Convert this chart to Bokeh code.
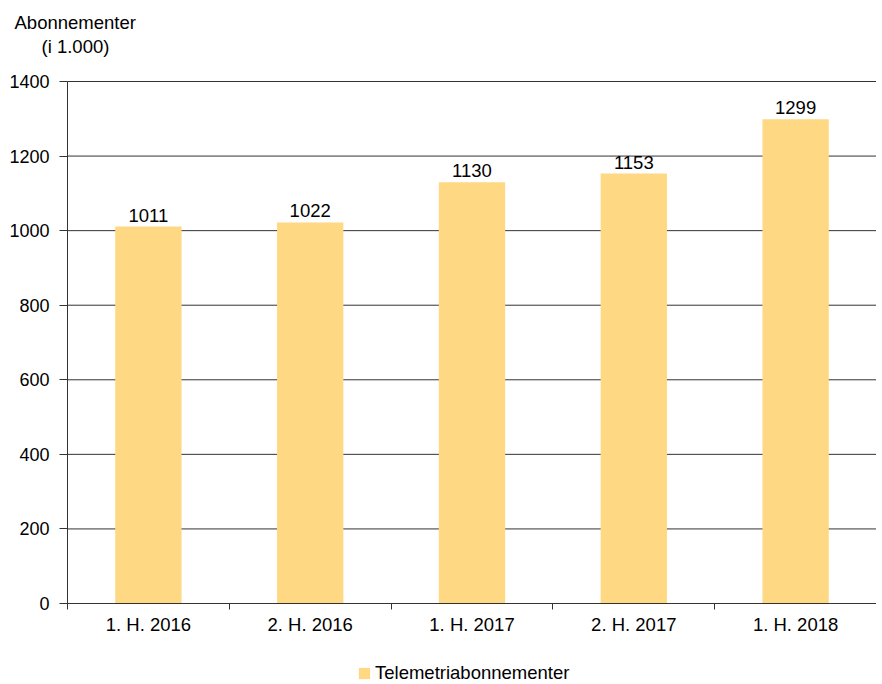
from bokeh.plotting import figure
from bokeh.models import FixedTicker, Legend, LegendItem, ColumnDataSource, LabelSet, Label
from bokeh.core.properties import value
from bokeh.embed import file_html
from bokeh.resources import INLINE

categories = ["1. H. 2016", "2. H. 2016", "1. H. 2017", "2. H. 2017", "1. H. 2018"]
values = [1011, 1022, 1130, 1153, 1299]
y_ticks = [0, 200, 400, 600, 800, 1000, 1200, 1400]
series_name = "Telemetriabonnementer"
y_title_1 = "Abonnementer"
y_title_2 = "(i 1.000)"

FONT = "Liberation Sans"
BAR = "#FFD883"
FS = "18.5px"
GRID = "#333333"

# layout (pixels): the frame covers the whole canvas; the 0..1400 plot area sits inside it
W, H = 876, 684
LEFT, TOP, BOTTOM = 67, 81, 603
N = len(categories)
Y_MAX = 1400
ux = (W - LEFT) / N                # px per category
uy = (BOTTOM - TOP) / Y_MAX        # px per unit
x_lo = -LEFT / ux
y_hi = Y_MAX + TOP / uy
y_lo = -(H - BOTTOM) / uy

xs = [i + 0.5 for i in range(N)]
src = ColumnDataSource(dict(x=xs, top=values, lab=[str(v) for v in values]))
grid_src = ColumnDataSource(dict(y=y_ticks, x0=[0] * len(y_ticks), x1=[N] * len(y_ticks)))

p = figure(frame_width=W, frame_height=H, output_backend="svg", toolbar_location=None,
           x_range=(x_lo, N), y_range=(y_lo, y_hi), min_border=0)
p.title.visible = False
p.outline_line_color = None
p.background_fill_color = "white"
p.xgrid.visible = False
p.ygrid.visible = False

# horizontal grid lines (behind bars)
p.segment(x0="x0", x1="x1", y0="y", y1="y", source=grid_src, line_color=GRID, line_width=1)

r = p.vbar(x="x", top="top", width=0.41, source=src, fill_color=BAR, line_color=None)

p.yaxis.fixed_location = 0
p.yaxis.bounds = (0, Y_MAX)
p.yaxis.ticker = FixedTicker(ticks=y_ticks)
p.yaxis.major_tick_in = 0
p.yaxis.major_tick_out = 8
p.yaxis.minor_tick_line_color = None
p.yaxis.axis_line_color = GRID
p.yaxis.major_tick_line_color = GRID
p.yaxis.major_label_text_font = FONT
p.yaxis.major_label_text_font_size = "18px"
p.yaxis.major_label_text_color = "black"
p.yaxis.major_label_standoff = 10

p.xaxis.fixed_location = 0
p.xaxis.bounds = (0, N)
p.xaxis.ticker = FixedTicker(ticks=xs, minor_ticks=list(range(N + 1)))
p.xaxis.major_label_overrides = {x: c for x, c in zip(xs, categories)}
p.xaxis.major_tick_line_color = None
p.xaxis.minor_tick_in = 0
p.xaxis.minor_tick_out = 6
p.xaxis.minor_tick_line_color = GRID
p.xaxis.axis_line_color = GRID
p.xaxis.major_label_text_font = FONT
p.xaxis.major_label_text_font_size = FS
p.xaxis.major_label_text_color = "black"
p.xaxis.major_label_standoff = 4

labels = LabelSet(x="x", y="top", text="lab", source=src, y_offset=5,
                  text_align="center", text_baseline="bottom",
                  text_font=value(FONT), text_font_size=FS, text_color="black")
p.add_layout(labels)

p.add_layout(Label(x=x_lo + 14 / ux, y=y_hi - 22 / uy, text=y_title_1,
                   text_font=FONT, text_font_size=FS, text_color="black",
                   text_baseline="middle", text_align="left"))
p.add_layout(Label(x=x_lo + 41 / ux, y=y_hi - 46 / uy, text=y_title_2,
                   text_font=FONT, text_font_size=FS, text_color="black",
                   text_baseline="middle", text_align="left"))

legend = Legend(items=[LegendItem(label=series_name, renderers=[r])],
                location=(357, 0), orientation="horizontal",
                label_text_font=FONT, label_text_font_size=FS, label_text_color="black",
                border_line_color=None, background_fill_alpha=0,
                glyph_width=14, glyph_height=14, label_standoff=4, padding=0, margin=0)
p.add_layout(legend)

open("out.html", "w").write(file_html(p, INLINE))
